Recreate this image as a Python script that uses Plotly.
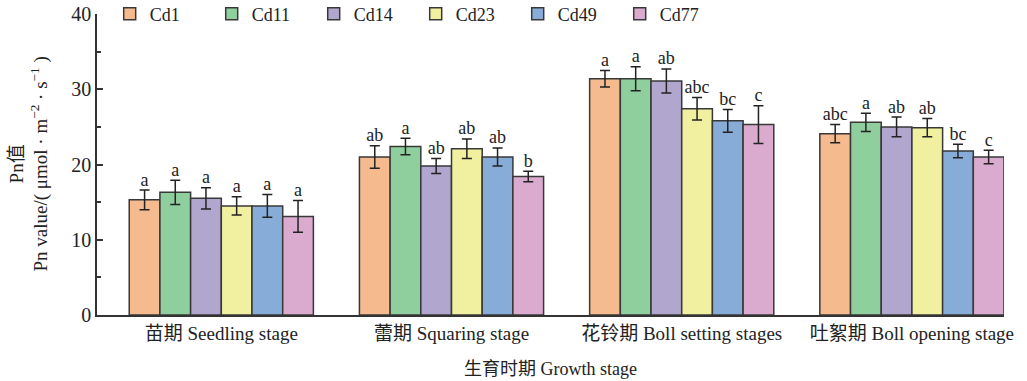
import plotly.graph_objects as go

# Growth stages (x categories)
stages = ["苗期 Seedling stage", "蕾期 Squaring stage",
          "花铃期 Boll setting stages", "吐絮期 Boll opening stage"]

# Cultivars
cultivars = ["Cd1", "Cd11", "Cd14", "Cd23", "Cd49", "Cd77"]

# Net photosynthetic rate (mean) per cultivar across stages
pn_cd1 = [15.3, 21.0, 31.4, 24.1]
pn_cd11 = [16.3, 22.4, 31.4, 25.6]
pn_cd14 = [15.5, 19.8, 31.1, 25.0]
pn_cd23 = [14.5, 22.1, 27.4, 24.9]
pn_cd49 = [14.5, 21.0, 25.8, 21.8]
pn_cd77 = [13.1, 18.4, 25.3, 21.0]

# Standard deviations
sd_cd1 = [1.3, 1.5, 1.1, 1.2]
sd_cd11 = [1.6, 1.1, 1.6, 1.2]
sd_cd14 = [1.4, 1.0, 1.6, 1.3]
sd_cd23 = [1.2, 1.3, 1.5, 1.2]
sd_cd49 = [1.5, 1.2, 1.5, 0.9]
sd_cd77 = [2.1, 0.7, 2.5, 0.9]

# Significance letters
sig_cd1 = ["a", "ab", "a", "abc"]
sig_cd11 = ["a", "a", "a", "a"]
sig_cd14 = ["a", "ab", "ab", "ab"]
sig_cd23 = ["a", "ab", "abc", "ab"]
sig_cd49 = ["a", "ab", "bc", "bc"]
sig_cd77 = ["a", "b", "c", "c"]

colors = ["#F5BB8F", "#8FCF9E", "#B1A6CD", "#F0F0A0", "#88ACD8", "#DBABCF"]

means = [pn_cd1, pn_cd11, pn_cd14, pn_cd23, pn_cd49, pn_cd77]
sds = [sd_cd1, sd_cd11, sd_cd14, sd_cd23, sd_cd49, sd_cd77]
sigs = [sig_cd1, sig_cd11, sig_cd14, sig_cd23, sig_cd49, sig_cd77]

SERIF = "Liberation Serif, Noto Sans CJK SC, serif"
n = len(cultivars)
group_w = 0.8
bw = group_w / n

fig = go.Figure()
for j, name in enumerate(cultivars):
    xs = [i + (j - (n - 1) / 2) * bw for i in range(len(stages))]
    fig.add_trace(go.Bar(
        x=xs, y=means[j], width=bw, name=name,
        marker=dict(color=colors[j], line=dict(color="#383838", width=1.5)),
        error_y=dict(type="data", array=sds[j], visible=True,
                     color="#222222", thickness=1.5, width=5),
    ))
    fig.add_trace(go.Scatter(
        x=xs, y=[m + s for m, s in zip(means[j], sds[j])],
        mode="text", text=sigs[j], textposition="top center",
        textfont=dict(family=SERIF, size=18, color="#222222"),
        showlegend=False, hoverinfo="skip",
    ))

fig.update_layout(
    width=1027, height=381,
    margin=dict(l=97, r=23, t=14, b=66, autoexpand=False),
    plot_bgcolor="white", paper_bgcolor="white",
    font=dict(family=SERIF, size=18, color="#222222"),
    showlegend=True,
    legend=dict(orientation="h", x=0.014, y=1.0, xanchor="left", yanchor="middle",
                xref="paper", yref="paper",
                entrywidth=57, entrywidthmode="pixels",
                font=dict(family="Liberation Serif", size=18, color="#222222",
                          weight="normal"),
                bgcolor="rgba(0,0,0,0)", itemclick=False),
    xaxis=dict(
        range=[-0.54, 3.4], showline=True, linecolor="#333333", linewidth=1.5,
        tickmode="array", tickvals=list(range(len(stages))), ticktext=stages,
        ticks="", showgrid=False, zeroline=False,
        tickfont=dict(family=SERIF, size=19, color="#222222"),
        title=dict(text="生育时期 Growth stage", standoff=20,
                   font=dict(family=SERIF, size=18, color="#222222")),
    ),
    yaxis=dict(
        range=[0, 40], showline=True, linecolor="#333333", linewidth=1.5,
        tickmode="array", tickvals=[0, 10, 20, 30, 40],
        ticks="inside", ticklen=6, tickwidth=1.5, tickcolor="#333333",
        minor=dict(tickvals=[5, 15, 25, 35], ticks="inside", ticklen=4,
                   tickwidth=1.5, tickcolor="#333333"),
        showgrid=False, zeroline=False, ticklabelstandoff=0,
        tickfont=dict(family=SERIF, size=20, color="#222222"),
    ),
    annotations=[dict(
        text="Pn值<br>Pn value/( μmol · m<sup>−2</sup> · s<sup>−1</sup> )",
        xref="paper", yref="paper", x=0, y=0.5, xshift=-68,
        xanchor="center", yanchor="middle", textangle=-90, showarrow=False,
        font=dict(family=SERIF, size=19, color="#222222"),
    )],
)

fig.write_html("out.html")
